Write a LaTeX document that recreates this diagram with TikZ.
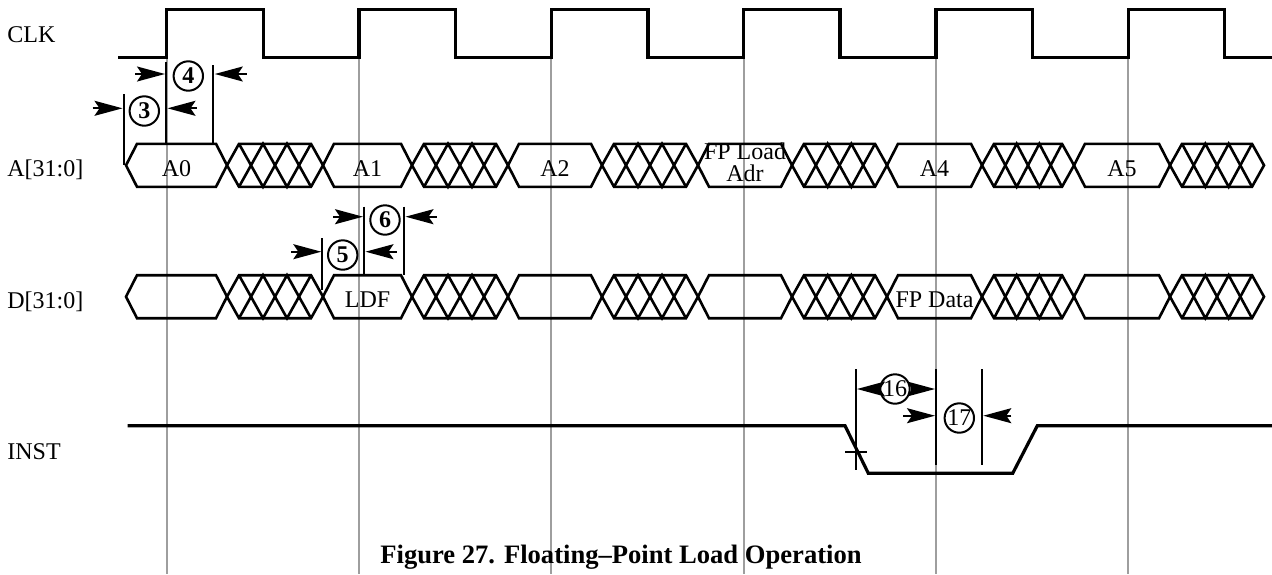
\documentclass[tikz,border=0pt]{standalone}
\usepackage{fontspec}
\setmainfont{Liberation Serif}
\usepackage{tikz}
\usetikzlibrary{arrows.meta}
\tikzset{>={Stealth[length=14pt,width=7.5pt,inset=2.5pt]}}

\begin{document}
\begin{tikzpicture}[x=0.5pt, y=-0.5pt, clk/.style={line width=1.7pt}, busline/.style={line width=1.3pt}, inst/.style={line width=1.6pt}, gridline/.style={draw=black!38, line width=1pt}, dimline/.style={line width=1pt}, dimarrow/.style={->, line width=0.9pt}, numcircle/.style={circle, draw, line width=1pt, minimum size=14.7pt, inner sep=0pt, font=\fontsize{12}{12}\selectfont\bfseries}, plaincircle/.style={numcircle, font=\fontsize{12}{12}\selectfont}, siglabel/.style={anchor=base west, inner sep=0pt, font=\fontsize{12}{12}\selectfont}, buslabel/.style={anchor=base, inner sep=0pt, font=\fontsize{12}{12}\selectfont}, figcaption/.style={anchor=base, inner sep=0pt, font=\fontsize{13.3}{14}\selectfont\bfseries}]

    \useasboundingbox (0,0) rectangle (1272,574);

    %Grid
    \foreach \r in {166.7,359,551.3,743.6,935.9,1128.2}
        \draw[gridline] (\r,57.3) -- (\r,574);

    %Signal names
    \node[siglabel](clk_label) at (7,42.7){CLK};
    \node[siglabel](a_label) at (7,176.7){A[31:0]};
    \node[siglabel](d_label) at (7,308){D[31:0]};
    \node[siglabel](inst_label) at (7,459.5){INST};

    %Clock
    \draw[clk] (118,57.3) foreach \r in {166.7,359,551.3,743.6,935.9,1128.2} { -- (\r,57.3) -- (\r,9.3) -- (\r+96.5,9.3) -- (\r+96.5,57.3) } -- (1272,57.3);

    %Buses
    \foreach \m in {165.3,296.7} {
        \foreach \a/\b in {126/227,323/412,508/602,698/792,887/982,1074/1170}
            \draw[busline] (\a,\m) -- (\a+11,\m-21.5) -- (\b-11,\m-21.5) -- (\b,\m) -- (\b-11,\m+21.5) -- (\a+11,\m+21.5) -- cycle;
        \foreach \a/\b in {227/323,412/508,602/698,792/887,982/1074,1170/1264} {
            \pgfmathsetmacro{\s}{(\b-\a-24)/3}
            \draw[busline] (\a,\m) -- (\a+12,\m-21.5) -- (\b-12,\m-21.5) -- (\b,\m) -- (\b-12,\m+21.5) -- (\a+12,\m+21.5) -- cycle;
            \draw[busline] (\a+12,\m-21.5) -- (\a+12+\s,\m+21.5) -- (\a+12+2*\s,\m-21.5) -- (\b-12,\m+21.5);
            \draw[busline] (\a+12,\m+21.5) -- (\a+12+\s,\m-21.5) -- (\a+12+2*\s,\m+21.5) -- (\b-12,\m-21.5);
        }
    }

    %Bus values
    \node[buslabel](a_zero) at (176.5,176.3){A0};
    \node[buslabel](a_one) at (367.5,176.3){A1};
    \node[buslabel](a_two) at (555,176.3){A2};
    \node[buslabel, anchor=center, align=center, font=\fontsize{12}{11}\selectfont](fp_adr) at (745,162){FP Load\\Adr};
    \node[buslabel](a_four) at (934.5,176.3){A4};
    \node[buslabel](a_five) at (1122,176.3){A5};
    \node[buslabel](d_ldf) at (367.5,307.7){LDF};
    \node[buslabel](d_fpdata) at (934.5,307.7){FP Data};

    %INST
    \draw[inst] (127.7,425.7) -- (845,425.7) -- (868.3,473.3) -- (1012.7,473.3) -- (1037.3,425.7) -- (1272,425.7);
    \draw[dimline] (845,451.7) -- (866.7,451.7);

    %Timing marks
    \draw[dimline] (123.5,94) -- (123.5,165);
    \draw[dimline] (166,61.7) -- (166,144);
    \draw[dimline] (213.3,65) -- (213.3,144);
    \draw[dimline] (322.3,238.3) -- (322.3,290);
    \draw[dimline] (364,206.7) -- (364,275);
    \draw[dimline] (404,206.7) -- (404,275);
    \draw[dimline] (856,369) -- (856,470);
    \draw[dimline] (936,369) -- (936,465);
    \draw[dimline] (982.3,369) -- (982.3,465);

    \node[numcircle](num_3) at (144.3,111){3};
    \node[numcircle](num_4) at (188.3,76){4};
    \node[numcircle](num_5) at (342.7,255){5};
    \node[numcircle](num_6) at (385,220){6};
    \node[plaincircle](num_16) at (895,389){16};
    \node[plaincircle](num_17) at (959.3,418){17};

    \coordinate (t3_in) at (122.5,108.3);
    \coordinate (t3_out) at (167.5,108.3);
    \coordinate (t4_in) at (165,74);
    \coordinate (t4_out) at (214.8,74);
    \coordinate (t5_in) at (321.3,251.7);
    \coordinate (t5_out) at (365.5,251.7);
    \coordinate (t6_in) at (363,216.7);
    \coordinate (t6_out) at (405.5,216.7);
    \coordinate (t16_left) at (857,389);
    \coordinate (t16_right) at (935,389);
    \coordinate (t17_in) at (935,415.7);
    \coordinate (t17_out) at (983.3,415.7);

    %Arrows
    \draw[dimarrow] (t3_in) ++(-30,0) -- (t3_in);
    \draw[dimarrow] (t3_out) ++(29,0) -- (t3_out);
    \draw[dimarrow] (t4_in) ++(-30,0) -- (t4_in);
    \draw[dimarrow] (t4_out) ++(32,0) -- (t4_out);
    \draw[dimarrow] (t5_in) ++(-30,0) -- (t5_in);
    \draw[dimarrow] (t5_out) ++(31,0) -- (t5_out);
    \draw[dimarrow] (t6_in) ++(-30,0) -- (t6_in);
    \draw[dimarrow] (t6_out) ++(31,0) -- (t6_out);
    \draw[dimarrow] (num_16.west) -- (t16_left);
    \draw[dimarrow] (num_16.east) -- (t16_right);
    \draw[dimarrow] (t17_in) ++(-32,0) -- (t17_in);
    \draw[dimarrow] (t17_out) ++(28,0) -- (t17_out);

    %Caption
    \node[figcaption](fig_caption) at (621,563){Figure 27. Floating–Point Load Operation};

\end{tikzpicture}
\end{document}
